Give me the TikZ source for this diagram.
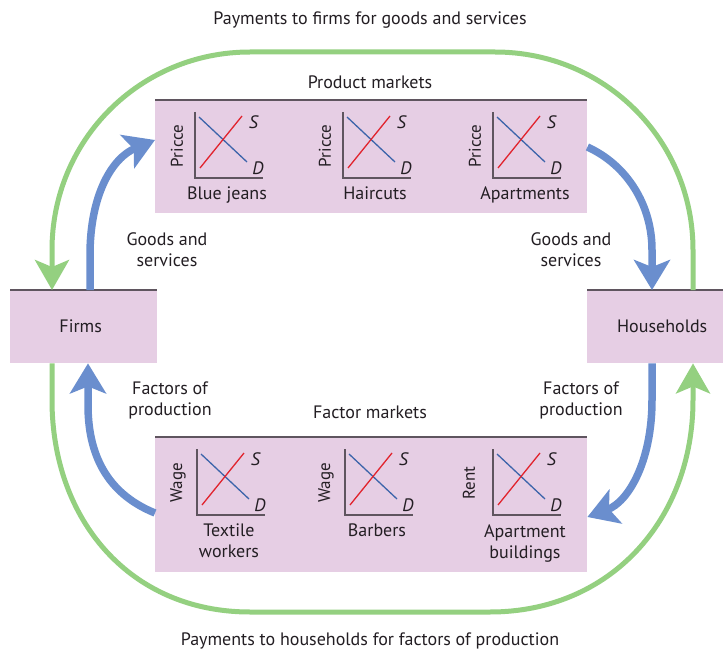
\documentclass[tikz,border=0pt]{standalone}
\usepackage{fontspec}
\setmainfont{PT Sans}
\usetikzlibrary{arrows.meta,calc}
\definecolor{pinkbox}{RGB}{230,206,228}
\definecolor{flowgreen}{RGB}{148,208,128}
\definecolor{flowblue}{RGB}{106,142,206}
\definecolor{dblue}{RGB}{60,100,170}
\definecolor{sred}{RGB}{225,35,45}
\definecolor{axisgray}{RGB}{95,85,95}
\definecolor{txt}{RGB}{35,30,35}
\newcommand\sdgraph[5]{%
\begin{scope}[shift={(#2)}]
  \draw[axisline] (0,-66) -- (0,0) -- (68,0);
  \draw[dcurve] (4,-61) -- (52,-16);
  \draw[scurve] (5,-10) -- (47,-62);
  \node[curvelbl] (#1S) at (59,-56) {\textit{S}};
  \node[curvelbl] (#1D) at (63,-10) {\textit{D}};
  \node[axlbl, rotate=90] (#1Y) at (#3,-32) {#4};
  \node[txtlbl, anchor=north] (#1X) at (32,9) {#5};
\end{scope}}
\begin{document}
\begin{tikzpicture}[x=1pt,y=-1pt,
  box/.style={fill=pinkbox, draw=none, inner sep=0pt, anchor=north west},
  topline/.style={draw=axisgray, line width=1.3pt},
  txtlbl/.style={text=txt, font=\fontsize{18}{21}\selectfont, align=center, inner sep=0pt},
  axlbl/.style={text=txt, font=\fontsize{17}{19}\selectfont, inner sep=0pt},
  curvelbl/.style={text=txt, font=\fontsize{18}{19}\selectfont, inner sep=0pt},
  axisline/.style={draw=axisgray, line width=1.1pt},
  dcurve/.style={draw=dblue, line width=1.3pt},
  scurve/.style={draw=sred, line width=1.3pt},
  greenflow/.style={draw=flowgreen, line width=5pt, -{Stealth[length=30pt,width=34pt,inset=7pt]}},
  blueflow/.style={draw=flowblue, line width=7.5pt, -{Stealth[length=30pt,width=36pt,inset=7pt]}}]
\useasboundingbox (0,0) rectangle (723,650);
\fill[white] (0,0) rectangle (723,650);

% boxes
\node[box, minimum width=147pt, minimum height=73pt] (firms) at (10,290) {};
\node[box, minimum width=136pt, minimum height=73pt] (households) at (587,290) {};
\node[box, minimum width=432pt, minimum height=113pt] (product) at (155,100) {};
\node[box, minimum width=432pt, minimum height=135pt] (factor) at (155,437) {};
\draw[topline] (firms.north west) -- (firms.north east);
\draw[topline] (households.north west) -- (households.north east);
\draw[topline] (product.north west) -- (product.north east);
\draw[topline] (factor.north west) -- (factor.north east);

\node[txtlbl] (firmslbl) at ($(firms.center)+(-3,0)$) {Firms};
\node[txtlbl] (hhlbl) at ($(households.center)+(7,0)$) {Households};

% titles
\node[txtlbl] (toptitle) at (370,20) {Payments to firms for goods and services};
\node[txtlbl] (bottitle) at (370,641) {Payments to households for factors of production};
\node[txtlbl] (prodlbl) at (370,82) {Product markets};
\node[txtlbl] (factlbl) at (370,412) {Factor markets};
\node[txtlbl] (gsleft) at (167,250) {Goods and\\services};
\node[txtlbl] (gsright) at (571,250) {Goods and\\services};
\node[txtlbl] (fpleft) at (170,400) {Factors of\\production};
\node[txtlbl] (fpright) at (581,400) {Factors of\\production};

% graphs
\sdgraph{ga}{195,178}{-18}{Pricce}{Blue jeans}
\sdgraph{gb}{343,178}{-18}{Pricce}{Haircuts}
\sdgraph{gc}{493,178}{-18}{Pricce}{Apartments}
\sdgraph{gd}{197,515}{-19}{Wage}{Textile\\workers}
\sdgraph{ge}{345,515}{-19}{Wage}{Barbers}
\sdgraph{gf}{493,515}{-24}{Rent}{Apartment\\buildings}

% green flows
\draw[greenflow] ($(households.north west)+(106,0)$) -- (693,250)
  .. controls (693,140) and (605,52) .. (495,52) -- (250,52)
  .. controls (140,52) and (52,140) .. (52,250) -- ($(firms.north west)+(42,0)$);
\draw[greenflow] ($(firms.south west)+(42,0)$) -- (52,400)
  .. controls (52,520) and (130,612) .. (250,612) -- (490,612)
  .. controls (610,612) and (693,520) .. (693,400) -- ($(households.south west)+(106,0)$);

% blue flows
\draw[blueflow] ($(firms.north west)+(80,0)$) -- (90,255)
  .. controls (90,195) and (112,158) .. ($(product.north west)+(0,40)$);
\draw[blueflow] ($(product.north east)+(0,47)$)
  .. controls (627,165) and (652,205) .. (652,250) -- ($(households.north west)+(65,0)$);
\draw[blueflow] ($(households.south west)+(65,0)$) -- (652,400)
  .. controls (652,462) and (628,502) .. ($(factor.north east)+(0,80)$);
\draw[blueflow] ($(factor.north west)+(0,76)$)
  .. controls (113,496) and (88,462) .. (88,405) -- ($(firms.south west)+(78,0)$);
\end{tikzpicture}
\end{document}
